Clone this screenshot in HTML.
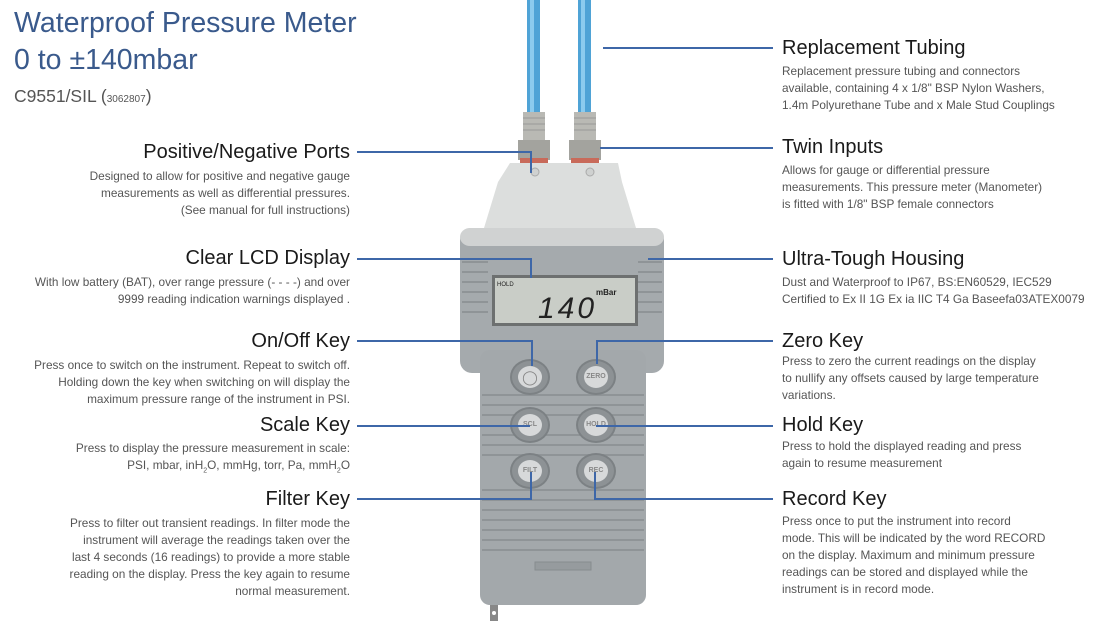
<!DOCTYPE html>
<html><head><meta charset="utf-8"><style>
body{margin:0;width:1119px;height:643px;background:#fff;position:relative;overflow:hidden;font-family:"Liberation Sans",sans-serif}
.a{position:absolute}
.h{position:absolute;font-size:20px;color:#1a1a1a;white-space:nowrap;line-height:22px}
.t{position:absolute;font-size:11.8px;color:#555;line-height:17px;white-space:nowrap}
.L{text-align:right}
.ln{position:absolute;background:#3e67a8}
.btn{position:absolute;width:36px;height:32px;border-radius:50%;background:#8d9295;box-shadow:0 0 0 2px #7c8184}
.btn i{position:absolute;left:6px;top:5px;width:24px;height:22px;border-radius:50%;background:#d7d9da;font-style:normal;font-size:7px;color:#888;text-align:center;line-height:22px;font-weight:bold}
</style></head><body>
<div class="a" style="left:14px;top:5px;font-size:28.5px;color:#3a5a8c;line-height:37px">Waterproof Pressure Meter<br>0 to ±140mbar</div>
<div class="a" style="left:14px;top:86px;font-size:17.5px;color:#555">C9551/SIL (<span style="font-size:10px">3062807</span>)</div>

<svg class="a" style="left:440px;top:0" width="240" height="643">
<rect x="87" y="0" width="13" height="118" fill="#4fa3d6"/><rect x="90" y="0" width="4" height="118" fill="#8ccbee"/>
<rect x="138" y="0" width="13" height="118" fill="#4fa3d6"/><rect x="141" y="0" width="4" height="118" fill="#8ccbee"/>
<rect x="83" y="112" width="22" height="30" fill="#b9b9b4"/><rect x="134" y="112" width="22" height="30" fill="#b9b9b4"/>
<g stroke="#999" stroke-width="1"><line x1="83" y1="118" x2="105" y2="118"/><line x1="83" y1="124" x2="105" y2="124"/><line x1="83" y1="130" x2="105" y2="130"/><line x1="134" y1="118" x2="156" y2="118"/><line x1="134" y1="124" x2="156" y2="124"/><line x1="134" y1="130" x2="156" y2="130"/></g>
<rect x="78" y="140" width="32" height="20" fill="#a3a39e"/><rect x="129" y="140" width="32" height="20" fill="#a3a39e"/>
<rect x="80" y="158" width="28" height="5" fill="#c86a5a"/><rect x="131" y="158" width="28" height="5" fill="#c86a5a"/>
<path d="M70 163 L178 163 L182 182 L196 228 L44 228 L58 182 Z" fill="#dcdedd"/>
<circle cx="95" cy="172" r="4" fill="#cfd1d0" stroke="#aaa"/><circle cx="150" cy="172" r="4" fill="#cfd1d0" stroke="#aaa"/>
<rect x="20" y="228" width="204" height="145" rx="12" fill="#a5aaad"/>
<rect x="20" y="228" width="204" height="18" rx="10" fill="#d0d2d2"/>
<rect x="40" y="350" width="166" height="255" rx="10" fill="#a3a8ab"/>
<g stroke="#8f9497" stroke-width="2">
<line x1="22" y1="262" x2="48" y2="262"/><line x1="22" y1="272" x2="48" y2="272"/><line x1="22" y1="282" x2="48" y2="282"/><line x1="22" y1="292" x2="48" y2="292"/><line x1="22" y1="302" x2="48" y2="302"/><line x1="22" y1="312" x2="48" y2="312"/>
<line x1="198" y1="262" x2="222" y2="262"/><line x1="198" y1="272" x2="222" y2="272"/><line x1="198" y1="282" x2="222" y2="282"/><line x1="198" y1="292" x2="222" y2="292"/><line x1="198" y1="302" x2="222" y2="302"/><line x1="198" y1="312" x2="222" y2="312"/>
<line x1="42" y1="395" x2="204" y2="395"/><line x1="42" y1="405" x2="204" y2="405"/><line x1="42" y1="415" x2="204" y2="415"/><line x1="42" y1="435" x2="204" y2="435"/><line x1="42" y1="445" x2="204" y2="445"/><line x1="42" y1="455" x2="204" y2="455"/><line x1="42" y1="490" x2="204" y2="490"/><line x1="42" y1="500" x2="204" y2="500"/><line x1="42" y1="510" x2="204" y2="510"/><line x1="42" y1="520" x2="204" y2="520"/><line x1="42" y1="530" x2="204" y2="530"/><line x1="42" y1="540" x2="204" y2="540"/><line x1="42" y1="550" x2="204" y2="550"/>
</g>
<rect x="52" y="275" width="146" height="51" fill="#6d7070"/>
<rect x="55" y="278" width="140" height="45" fill="#c9cdc7"/>
<text x="57" y="286" font-size="6" font-family="Liberation Sans" fill="#222">HOLD</text>
<text x="98" y="318" font-size="30" font-family="Liberation Sans" font-style="italic" fill="#222" letter-spacing="3">140</text>
<text x="156" y="295" font-size="8" font-family="Liberation Sans" font-weight="bold" fill="#222">mBar</text>
<rect x="95" y="562" width="56" height="8" fill="#969b9e" stroke="#878c8f"/>
<rect x="50" y="605" width="8" height="16" fill="#888"/><circle cx="54" cy="613" r="2" fill="#fff"/>
</svg>
<div class="btn" style="left:512px;top:361px"><i style="font-size:14px;font-weight:normal">◯</i></div>
<div class="btn" style="left:578px;top:361px"><i>ZERO</i></div>
<div class="btn" style="left:512px;top:409px"><i>SCL</i></div>
<div class="btn" style="left:578px;top:409px"><i>HOLD</i></div>
<div class="btn" style="left:512px;top:455px"><i>FILT</i></div>
<div class="btn" style="left:578px;top:455px"><i>REC</i></div>

<div class="ln" style="left:357px;top:151px;width:175px;height:2px"></div><div class="ln" style="left:530px;top:151px;width:2px;height:22px"></div>
<div class="ln" style="left:357px;top:258px;width:175px;height:2px"></div><div class="ln" style="left:530px;top:258px;width:2px;height:20px"></div>
<div class="ln" style="left:357px;top:340px;width:176px;height:2px"></div><div class="ln" style="left:531px;top:340px;width:2px;height:26px"></div>
<div class="ln" style="left:357px;top:425px;width:173px;height:2px"></div>
<div class="ln" style="left:357px;top:498px;width:175px;height:2px"></div><div class="ln" style="left:530px;top:472px;width:2px;height:28px"></div>
<div class="ln" style="left:603px;top:47px;width:170px;height:2px"></div>
<div class="ln" style="left:600px;top:147px;width:173px;height:2px"></div>
<div class="ln" style="left:648px;top:258px;width:125px;height:2px"></div>
<div class="ln" style="left:596px;top:340px;width:177px;height:2px"></div><div class="ln" style="left:596px;top:340px;width:2px;height:24px"></div>
<div class="ln" style="left:596px;top:425px;width:177px;height:2px"></div>
<div class="ln" style="left:594px;top:498px;width:179px;height:2px"></div><div class="ln" style="left:594px;top:472px;width:2px;height:28px"></div>

<div class="h L" style="right:769px;top:141px">Positive/Negative Ports</div>
<div class="t L" style="right:769px;top:168px">Designed to allow for positive and negative gauge<br>measurements as well as differential pressures.<br>(See manual for full instructions)</div>
<div class="h L" style="right:769px;top:247px">Clear LCD Display</div>
<div class="t L" style="right:769px;top:274px">With low battery (BAT), over range pressure (- - - -) and over<br>9999 reading indication warnings displayed .</div>
<div class="h L" style="right:769px;top:330px">On/Off Key</div>
<div class="t L" style="right:769px;top:357px">Press once to switch on the instrument. Repeat to switch off.<br>Holding down the key when switching on will display the<br>maximum pressure range of the instrument in PSI.</div>
<div class="h L" style="right:769px;top:414px">Scale Key</div>
<div class="t L" style="right:769px;top:440px">Press to display the pressure measurement in scale:<br>PSI, mbar, inH<sub style="font-size:7px">2</sub>O, mmHg, torr, Pa, mmH<sub style="font-size:7px">2</sub>O</div>
<div class="h L" style="right:769px;top:488px">Filter Key</div>
<div class="t L" style="right:769px;top:515px">Press to filter out transient readings. In filter mode the<br>instrument will average the readings taken over the<br>last 4 seconds (16 readings) to provide a more stable<br>reading on the display. Press the key again to resume<br>normal measurement.</div>

<div class="h" style="left:782px;top:37px">Replacement Tubing</div>
<div class="t" style="left:782px;top:63px">Replacement pressure tubing and connectors<br>available, containing 4 x 1/8" BSP Nylon Washers,<br>1.4m Polyurethane Tube and x Male Stud Couplings</div>
<div class="h" style="left:782px;top:136px">Twin Inputs</div>
<div class="t" style="left:782px;top:162px">Allows for gauge or differential pressure<br>measurements. This pressure meter (Manometer)<br>is fitted with 1/8" BSP female connectors</div>
<div class="h" style="left:782px;top:248px">Ultra-Tough Housing</div>
<div class="t" style="left:782px;top:274px">Dust and Waterproof to IP67, BS:EN60529, IEC529<br>Certified to Ex II 1G Ex ia IIC T4 Ga Baseefa03ATEX0079</div>
<div class="h" style="left:782px;top:330px">Zero Key</div>
<div class="t" style="left:782px;top:353px">Press to zero the current readings on the display<br>to nullify any offsets caused by large temperature<br>variations.</div>
<div class="h" style="left:782px;top:414px">Hold Key</div>
<div class="t" style="left:782px;top:438px">Press to hold the displayed reading and press<br>again to resume measurement</div>
<div class="h" style="left:782px;top:488px">Record Key</div>
<div class="t" style="left:782px;top:513px">Press once to put the instrument into record<br>mode. This will be indicated by the word RECORD<br>on the display. Maximum and minimum pressure<br>readings can be stored and displayed while the<br>instrument is in record mode.</div>
</body></html>
